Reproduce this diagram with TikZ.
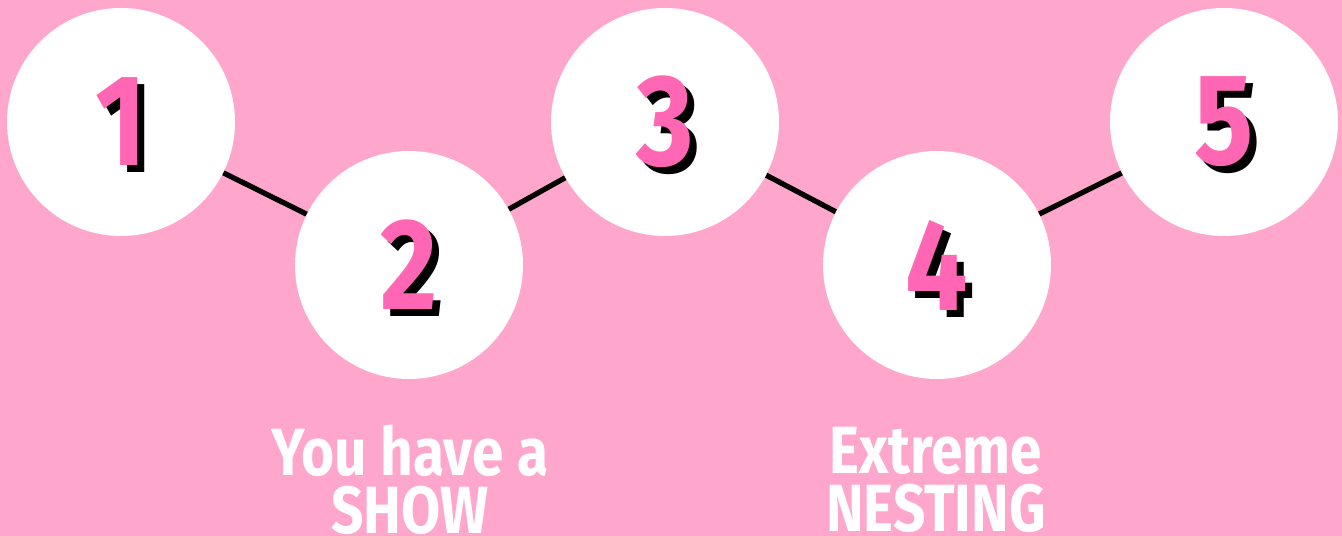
\documentclass[tikz,border=0pt]{standalone}
\usepackage{fontspec}
\setmainfont{Fira Sans}
\newfontfamily\stepfont[FakeStretch=0.85]{Fira Sans}
\usetikzlibrary{positioning, calc}
\definecolor{bgpink}{RGB}{255, 166, 204}
\definecolor{digitpink}{RGB}{255, 102, 179}

\begin{document}
\begin{tikzpicture}[
      stop/.style={circle, fill=white, inner sep=0pt, minimum size=4.56cm},
      digit/.style={font=\stepfont\bfseries\fontsize{74}{74}\selectfont, text=digitpink, inner sep=0pt},
      digshadow/.style={digit, text=black},
      caption/.style={align=center, text=white, font=\stepfont\bfseries\fontsize{38}{33}\selectfont},
      link/.style={line width=3pt, black}
    ]
      \useasboundingbox (0, 0) rectangle (26.84, 10.72);
      \fill[bgpink] (0, 0) rectangle (26.84, 10.72);

      \node[stop] (c1) at (2.42, 8.28) {};
      \node[stop] (c2) at (8.18, 5.42) {};
      \node[stop] (c3) at (13.30, 8.28) {};
      \node[stop] (c4) at (18.74, 5.42) {};
      \node[stop] (c5) at (24.48, 8.28) {};

      \draw[link] (c1) -- (c2);
      \draw[link] (c2) -- (c3);
      \draw[link] (c3) -- (c4);
      \draw[link] (c4) -- (c5);

      \node[digshadow] (s1) at ($(c1)+(0.14,-0.14)$) {1};
      \node[digit] (d1) at (c1) {1};
      \node[digshadow] (s2) at ($(c2)+(0.14,-0.14)$) {2};
      \node[digit] (d2) at (c2) {2};
      \node[digshadow] (s3) at ($(c3)+(0.14,-0.14)$) {3};
      \node[digit] (d3) at (c3) {3};
      \node[digshadow] (s4) at ($(c4)+(0.14,-0.14)$) {4};
      \node[digit] (d4) at (c4) {4};
      \node[digshadow] (s5) at ($(c5)+(0.14,-0.14)$) {5};
      \node[digit] (d5) at (c5) {5};

      \node[caption] (show) at (8.20, 1.12) {You have a\\SHOW};
      \node[caption] (nest) at (18.72, 1.12) {Extreme\\NESTING};
    \end{tikzpicture}
\end{document}
